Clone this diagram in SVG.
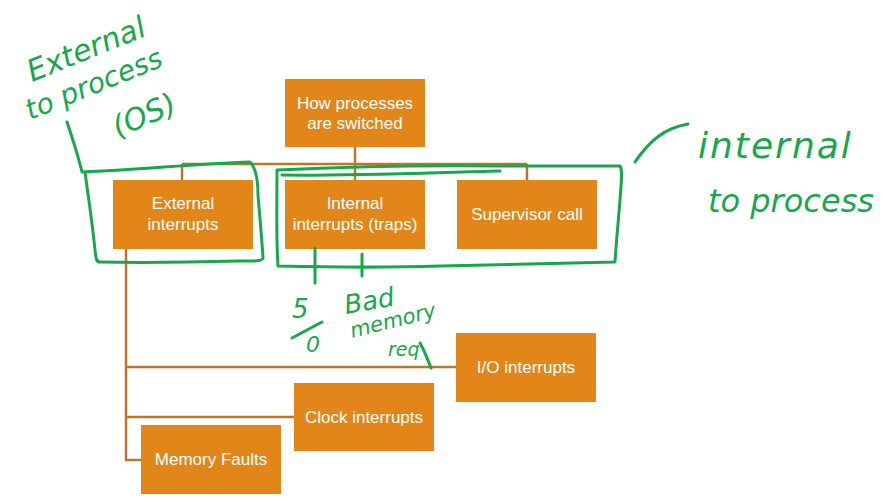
<svg xmlns="http://www.w3.org/2000/svg" width="890" height="499" viewBox="0 0 890 499">
<style>
.box{fill:#E2861A}
.lbl{fill:#ffffff;font-family:"Liberation Sans",Arial,sans-serif;font-size:17px;text-anchor:middle}
.con{stroke:#C0742A;stroke-width:2.5;fill:none}
.ink{stroke:#17A84B;stroke-width:3;fill:none;stroke-linecap:round;stroke-linejoin:round}
.hw{fill:#17A84B;font-family:"DejaVu Sans",sans-serif;font-style:italic}
</style>
<rect width="890" height="499" fill="#ffffff"/>
<g id="connectors">
<path class="con" d="M355 147V164M182 164H527M182 164V180M355 164V180M527 164V180"/>
<path class="con" d="M126 249V460H141M126 367H456M126 417H294"/>
</g>
<g id="n-root"><rect class="box" x="285" y="79" width="140" height="68"/><text class="lbl" x="355" y="109">How processes</text><text class="lbl" x="355" y="129">are switched</text></g>
<g id="n-external"><rect class="box" x="113" y="180" width="140" height="69"/><text class="lbl" x="183" y="209">External</text><text class="lbl" x="183" y="230">interrupts</text></g>
<g id="n-internal"><rect class="box" x="285" y="180" width="140" height="69"/><text class="lbl" x="355" y="209">Internal</text><text class="lbl" x="355" y="230">interrupts (traps)</text></g>
<g id="n-supervisor"><rect class="box" x="457" y="180" width="140" height="69"/><text class="lbl" x="527" y="220">Supervisor call</text></g>
<g id="n-io"><rect class="box" x="456" y="333" width="140" height="69"/><text class="lbl" x="526" y="373">I/O interrupts</text></g>
<g id="n-clock"><rect class="box" x="294" y="383" width="140" height="68"/><text class="lbl" x="364" y="423">Clock interrupts</text></g>
<g id="n-memory"><rect class="box" x="141" y="425" width="140" height="69"/><text class="lbl" x="211" y="465">Memory Faults</text></g>
<g id="annotations">
<path class="ink" d="M67 122C73 140 78 155 82 172C140 170 190 164 250 162C256 168 258 180 258 195C260 220 262 240 263 258C262 262 250 261 240 261C200 262 150 263 100 262C96 262 96 258 95 250C92 220 88 195 85 172"/>
<path class="ink" d="M277 170C340 167 420 165 500 166C560 166 600 166 620 166C623 170 621 185 620 200C618 225 616 245 615 262C560 263 500 265 440 266C380 268 320 267 278 266C276 240 277 200 277 170"/>
<path class="ink" d="M282 175C340 176 420 173 500 171"/>
<path class="ink" d="M635 162C650 140 665 128 688 124"/>
<path class="ink" d="M315 248V283M362 254V276M420 343C425 352 428 360 431 368"/>
<path class="ink" d="M292 338L322 322"/>
<text class="hw" font-size="30" transform="translate(32 82) rotate(-22)">External</text>
<text class="hw" font-size="28" transform="translate(30 120) rotate(-22)">to process</text>
<text class="hw" font-size="30" transform="translate(118 138) rotate(-24)">(OS)</text>
<text class="hw" font-size="36" letter-spacing="2" x="698" y="158">internal</text>
<text class="hw" font-size="32" x="708" y="212">to process</text>
<text class="hw" font-size="26" x="292" y="318">5</text>
<text class="hw" font-size="22" x="306" y="352">0</text>
<text class="hw" font-size="26" transform="translate(346 314) rotate(-10)">Bad</text>
<text class="hw" font-size="21" transform="translate(352 338) rotate(-14)">memory</text>
<text class="hw" font-size="19" x="388" y="356">req</text>
</g>
</svg>
